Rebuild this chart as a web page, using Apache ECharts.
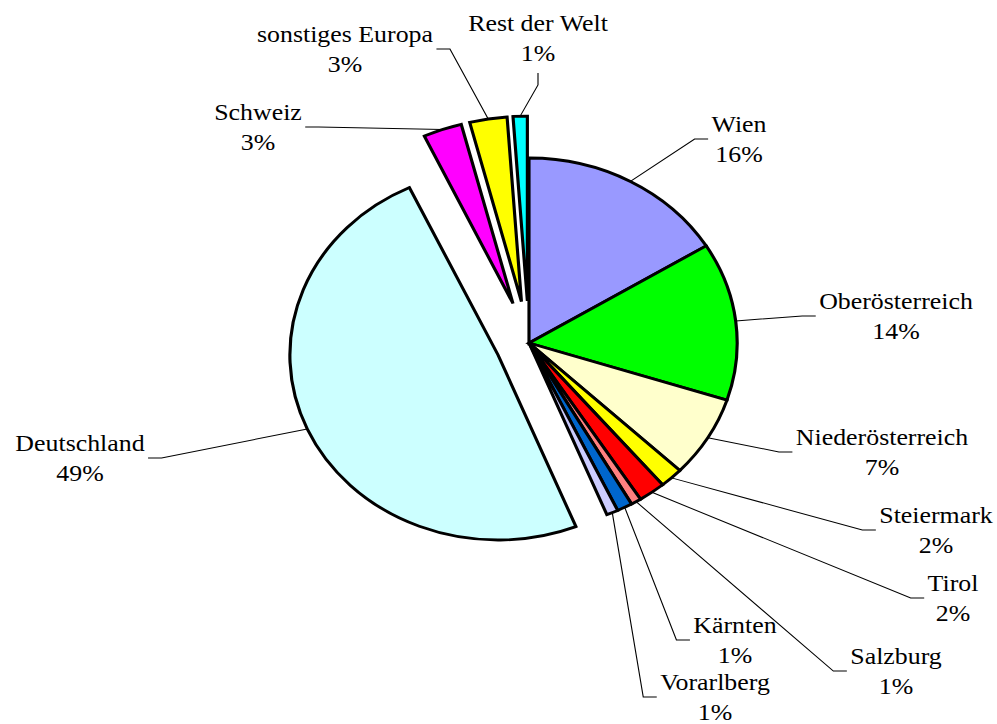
<!DOCTYPE html>
<html>
<head>
<meta charset="utf-8">
<title>Herkunft der Gäste</title>
<script src="https://cdn.jsdelivr.net/npm/echarts@6/dist/echarts.min.js"></script>
<style>
  html, body { margin: 0; padding: 0; background: #ffffff; overflow: hidden; }
  /* the pie is laid out on a narrower canvas and widened to the full window,
     which gives the oval pie and the wide lettering */
  #chart { width: 886px; height: 724px; transform: scaleX(1.12528); transform-origin: 0 0; }
</style>
</head>
<body>
<div id="chart"></div>
<script>
// Herkunft: Bundesländer, dann Ausland (Anteile in %)
const regions = ['Wien', 'Oberösterreich', 'Niederösterreich', 'Steiermark', 'Tirol',
  'Salzburg', 'Kärnten', 'Vorarlberg', 'Deutschland', 'Schweiz', 'sonstiges Europa', 'Rest der Welt'];
const shares = [16.2, 13.8, 7.1, 1.8, 2.1, 0.8, 1.2, 0.9, 49.1, 3.0, 2.9, 1.1];

// slices pulled out of the pie
const pulledOut = ['Deutschland'];
const pulledFar = ['Schweiz', 'sonstiges Europa', 'Rest der Welt'];

const sliceColors = ['#9999FF', '#00FF00', '#FFFFCC', '#FFFF00', '#FF0000',
  '#FF8080', '#0066CC', '#CCCCFF', '#CCFFFF', '#FF00FF', '#FFFF00', '#00FFFF'];

// label block centres on the page
const labelSpots = {
  'Wien': [739, 139],
  'Oberösterreich': [896, 316],
  'Niederösterreich': [882, 452],
  'Steiermark': [936, 530],
  'Tirol': [953, 598],
  'Salzburg': [896, 671],
  'Kärnten': [735, 640],
  'Vorarlberg': [715, 697],
  'Deutschland': [80, 458],
  'Schweiz': [258, 127],
  'sonstiges Europa': [345, 49],
  'Rest der Welt': [538, 38]
};

const SCALE_X = 997 / 886;
const CENTER = [529 / SCALE_X, 343];
const RADIUS = 185;
const OFFSET_OUT = 30;
const OFFSET_FAR = 42;
const FONT = "'Liberation Serif', 'Times New Roman', serif";

function labelText(p) {
  return p.name + '\n' + Math.round(p.percent) + '%';
}

function pullOf(name) {
  if (pulledOut.indexOf(name) >= 0) return OFFSET_OUT;
  if (pulledFar.indexOf(name) >= 0) return OFFSET_FAR;
  return 0;
}

// place each label and draw its leader: from the (pulled out) rim, then a short stub into the label
function placeLabel(p) {
  const name = regions[p.dataIndex];
  const spot = labelSpots[name];
  if (!spot || !p.labelLinePoints || !p.labelRect) return {};
  const cx = spot[0] / SCALE_X;
  const cy = spot[1];
  const w = p.labelRect.width;
  const h = p.labelRect.height;
  const r0 = p.labelLinePoints[0];
  const ux = r0[0] - CENTER[0];
  const uy = r0[1] - CENTER[1];
  const len = Math.sqrt(ux * ux + uy * uy) || 1;
  const pull = pullOf(name);
  const rim = [r0[0] + ux / len * pull, r0[1] + uy / len * pull];
  let end, elbow;
  if (rim[0] < cx - w / 2) {
    end = [cx - w / 2 - 3, cy];
    elbow = [end[0] - 12, cy];
  } else if (rim[0] > cx + w / 2) {
    end = [cx + w / 2 + 3, cy];
    elbow = [end[0] + 12, cy];
  } else {
    end = [cx, cy + h / 2 + 5];
    elbow = [cx, end[1] + 12];
  }
  return {
    x: cx, y: cy, align: 'center', verticalAlign: 'middle',
    labelLinePoints: [rim, elbow, end]
  };
}

// slices of one group; the others stay as empty gaps so the angles line up
function sliceData(visibleNames, selectedNames) {
  return regions.map(function (name, i) {
    const item = { name: name, value: shares[i] };
    if (visibleNames.indexOf(name) < 0) {
      item.itemStyle = { color: 'rgba(0,0,0,0)', borderWidth: 0 };
    } else {
      item.itemStyle = { color: sliceColors[i] };
      if (selectedNames.indexOf(name) >= 0) item.selected = true;
    }
    return item;
  });
}

const pieBase = {
  type: 'pie',
  center: CENTER,
  radius: RADIUS,
  startAngle: 90,
  clockwise: true,
  animation: false,
  avoidLabelOverlap: false,
  emphasis: { disabled: true }
};

const sliceBorder = { borderColor: '#000000', borderWidth: 2.8, borderJoin: 'miter' };

const nearNames = regions.filter(function (n) { return pulledFar.indexOf(n) < 0; });

const option = {
  backgroundColor: '#ffffff',
  series: [
    Object.assign({}, pieBase, {
      name: 'Herkunft',
      selectedMode: 'multiple',
      selectedOffset: OFFSET_OUT,
      itemStyle: sliceBorder,
      label: { show: false },
      labelLine: { show: false },
      data: sliceData(nearNames, pulledOut)
    }),
    Object.assign({}, pieBase, {
      name: 'Herkunft Ausland',
      selectedMode: 'multiple',
      selectedOffset: OFFSET_FAR,
      itemStyle: sliceBorder,
      label: { show: false },
      labelLine: { show: false },
      data: sliceData(pulledFar, pulledFar)
    }),
    Object.assign({}, pieBase, {
      name: 'Beschriftung',
      silent: true,
      itemStyle: { color: 'rgba(0,0,0,0)', borderWidth: 0 },
      label: {
        show: true,
        position: 'outside',
        formatter: labelText,
        color: '#000000',
        fontFamily: FONT,
        fontSize: 23,
        lineHeight: 30,
        align: 'center'
      },
      labelLine: { show: true, lineStyle: { color: '#000000', width: 1 } },
      labelLayout: placeLabel,
      data: regions.map(function (name, i) { return { name: name, value: shares[i] }; })
    })
  ]
};

const chart = echarts.init(document.getElementById('chart'), null, { renderer: 'svg' });
chart.setOption(option);
</script>
</body>
</html>
